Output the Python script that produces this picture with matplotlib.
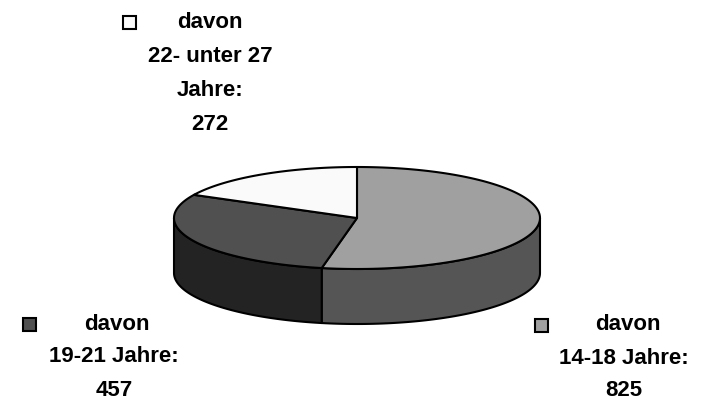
import numpy as np
import matplotlib
matplotlib.use("Agg")
import matplotlib.pyplot as plt
from matplotlib.patches import Polygon, Rectangle

# data
labels = [["davon", "14-18 Jahre:", "825"],
          ["davon", "19-21 Jahre:", "457"],
          ["davon", "22- unter 27", "Jahre:", "272"]]
values = [825, 457, 272]
top_colors = ["#a0a0a0", "#505050", "#fafafa"]
side_colors = ["#555555", "#232323", "#bdbdbd"]

# pie geometry in pixels
cx, cy, a, b, depth = 357, 218, 183, 51, 55

fig = plt.figure(figsize=(7.05, 4.03), dpi=100)
ax = fig.add_axes([0, 0, 1, 1])
ax.set_xlim(0, 705)
ax.set_ylim(403, 0)
ax.axis("off")

def pt(t, dy=0):
    # t in degrees, clockwise from top
    r = np.radians(t)
    return cx + a * np.sin(r), cy - b * np.cos(r) + dy

frac = np.array(values) / sum(values)
bounds = np.concatenate([[0], np.cumsum(frac) * 360])

# sides (front half only: 90..270)
for i in range(len(values)):
    t1, t2 = max(bounds[i], 90), min(bounds[i + 1], 270)
    if t2 <= t1:
        continue
    ts = np.linspace(t1, t2, 80)
    upper = [pt(t) for t in ts]
    lower = [pt(t, depth) for t in ts[::-1]]
    ax.add_patch(Polygon(upper + lower, closed=True, fc=side_colors[i],
                         ec="black", lw=1.5, joinstyle="round"))

# top faces
for i in range(len(values)):
    ts = np.linspace(bounds[i], bounds[i + 1], 120)
    pts = [(cx, cy)] + [pt(t) for t in ts]
    ax.add_patch(Polygon(pts, closed=True, fc=top_colors[i],
                         ec="black", lw=1.5, joinstyle="round"))

# labels
fkw = dict(fontsize=16, fontweight="bold", family=["Liberation Sans", "DejaVu Sans"],
           ha="center", va="center", color="black")
label_pos = [(624, 325), (114, 324), (210, 22)]
first_line_x = [628, 117, 210]
marker_pos = [(541, 325), (29, 324), (129, 22)]
steps = [33, 33, 34]

for i in range(len(values)):
    x, y = label_pos[i]
    for j, line in enumerate(labels[i]):
        lx = first_line_x[i] if j == 0 else x
        ax.text(lx, y + j * steps[i], line, **fkw)
    mx, my = marker_pos[i]
    ax.add_patch(Rectangle((mx - 6.5, my - 6.5), 13, 13, fc=top_colors[i],
                           ec="black", lw=1.5))

fig.savefig("out.png", dpi=100)
